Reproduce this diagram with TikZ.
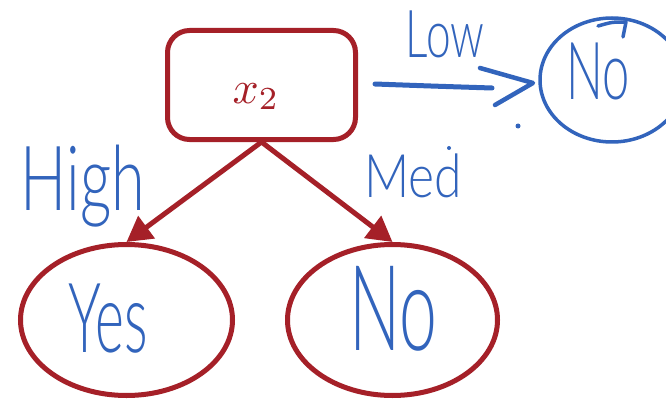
\documentclass[tikz,border=0pt]{standalone}
\usepackage{fontspec}
\usepackage{graphicx}
\newfontfamily\hand{Lato Light}
\usetikzlibrary{shapes.geometric,arrows.meta}
\definecolor{treered}{RGB}{165,32,40}
\definecolor{inkblue}{RGB}{50,100,188}
% hand-lettered label: size, horizontal squeeze, text
\newcommand\inklabel[3]{{\hand\fontsize{#1}{#1}\selectfont\scalebox{#2}[1]{#3}}}
\begin{document}
\begin{tikzpicture}[x=1pt,y=-1pt,
  treeline/.style={draw=treered,line width=5pt},
  leaf/.style={treeline,ellipse,inner sep=0pt},
  branch/.style={treeline,-{Triangle[length=25pt,width=27pt]}},
  ink/.style={text=inkblue,inner sep=0pt,anchor=base},
  inkline/.style={draw=inkblue,line width=4.5pt,line cap=round,line join=round}]
\useasboundingbox[fill=white] (0,0) rectangle (666,401);

% decision node and its two leaves
\node[treeline,rounded corners=22pt,minimum width=188pt,minimum height=109pt,inner sep=0pt] (root) at (261.5,85) {};
\node[text=treered,anchor=base,inner sep=0pt] (var) at (256,103) {\scalebox{4.6}{$x_2$}};
\node[leaf,minimum width=212pt,minimum height=151pt] (yes) at (126.5,320) {};
\node[leaf,minimum width=210pt,minimum height=151pt] (no) at (392.5,320) {};

\draw[branch] (root.south) -- (yes.north);
\draw[branch] (root.south) -- (no.north);

% handwritten branch labels and leaf values
\node[ink] (high) at (83,210) {\inklabel{90pt}{0.68}{High}};
\node[ink] (med) at (413,197) {\inklabel{60pt}{0.83}{Med}};
\node[ink] (low) at (445,58) {\inklabel{66pt}{0.67}{Low}};
\node[ink] (yestext) at (108,352) {\inklabel{97pt}{0.57}{Yes}};
\node[ink] (notext) at (393,350) {\inklabel{119pt}{0.57}{No}};
\node[ink] (lowno) at (598,100) {\inklabel{80pt}{0.61}{No}};

% hand-drawn third branch
\draw[inkline,line width=3.5pt] (612,80) ellipse[x radius=72pt,y radius=62pt];
\coordinate (hk1) at (598,26);
\coordinate (hk2) at (626,22);
\coordinate (hk3) at (623,37);
\draw[inkline,line width=3.5pt] (hk1) .. controls (612,22) .. (hk2) -- (hk3);
\coordinate (lowA) at (375,84);
\coordinate (lowB) at (492,88);
\draw[inkline,line width=5pt] (lowA) .. controls (430,86) .. (lowB);
\coordinate (tipA) at (480,68);
\coordinate (tipB) at (533,83);
\coordinate (tipC) at (495,105);
\draw[inkline] (tipA) -- (tipB) -- (tipC);
\fill[inkblue] (518,126) circle[radius=2.5pt];
\fill[inkblue] (449,148) circle[radius=2pt];
\end{tikzpicture}
\end{document}
